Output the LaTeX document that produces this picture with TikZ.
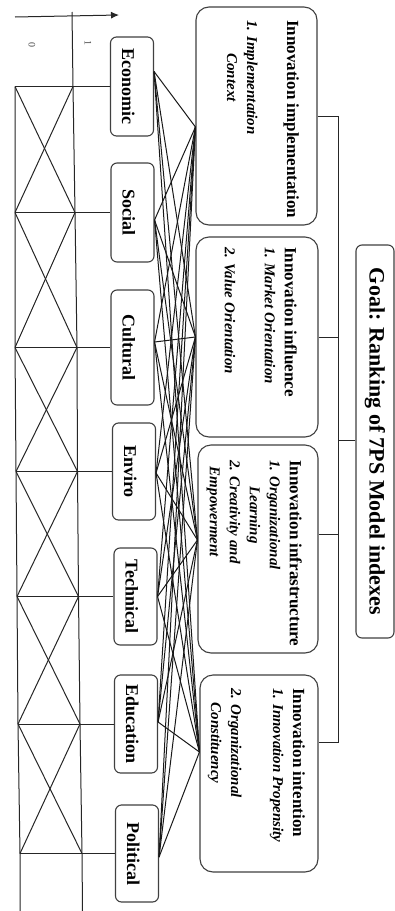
\documentclass[tikz,border=0pt]{standalone}
\usepackage{fontspec}
\setmainfont{Liberation Serif}
\usepackage{calc}
\usetikzlibrary{calc,arrows.meta}

\begin{document}
\begin{tikzpicture}[x=1pt,y=-1pt,
  wire/.style={draw=black!85,line width=1pt},
  link/.style={draw=black!90,line width=1pt},
  crit/.style={draw=black!75,line width=1.1pt,rounded corners=6pt,rotate=-90,
    minimum width=#1,minimum height=43pt,inner sep=0pt,
    text height=20pt,text depth=0pt,font=\fontsize{18}{20}\selectfont\bfseries},
  altbox/.style={draw=black!75,line width=1.1pt,rounded corners=13pt,rotate=-90,inner sep=0pt},
  goalbox/.style={draw=black!75,line width=1.1pt,rounded corners=6pt,rotate=-90,inner sep=0pt,
    minimum width=393pt,minimum height=38pt,font=\fontsize{22}{24}\selectfont\bfseries},
  alttext/.style={rotate=-90,anchor=north west,inner sep=0pt,align=left,
    font=\fontsize{15}{20}\selectfont\bfseries\itshape},
  axislabel/.style={rotate=-90,inner sep=0pt,text=black!70,font=\fontsize{10}{12}\selectfont}
]
\newcommand{\headline}[1]{{\fontsize{17}{20}\selectfont\upshape #1}}

\useasboundingbox[fill=white] (0,0) rectangle (395,911);

% axis arrow and scale labels
\coordinate (ax0) at (15,17);
\coordinate (ax1) at (119,15);
\draw[wire,-{Latex[length=8pt,width=7pt]}] (ax0) -- (ax1);
\node[axislabel] (z0) at (32,45) {0};
\node[axislabel] (z1) at (88,43) {1};

% criteria
\node[crit=99pt] (eco) at (132,86.5) {Economic};
\node[crit=99pt] (soc) at (132.5,212.5) {Social};
\node[crit=115pt] (cul) at (132.5,347.5) {Cultural};
\node[crit=97pt] (env) at (134,471.5) {Enviro};
\node[crit=97pt] (tec) at (135.5,596.5) {Technical};
\node[crit=98pt] (edu) at (136,724) {Education};
\node[crit=97pt] (pol) at (137,853.5) {Political};

% left lattice: two rails with crossings between consecutive criteria
\coordinate (L1) at (15,86.5);  \coordinate (R1) at (73,86.5);
\coordinate (L2) at (15,212.5); \coordinate (R2) at (75,212.5);
\coordinate (L3) at (15,347.5); \coordinate (R3) at (77,347.5);
\coordinate (L4) at (16,471.5); \coordinate (R4) at (77.5,471.5);
\coordinate (L5) at (17,596.5); \coordinate (R5) at (78.5,596.5);
\coordinate (L6) at (18,724);   \coordinate (R6) at (80,724);
\coordinate (L7) at (20,853.5); \coordinate (R7) at (82,853.5);
\coordinate (Ltop) at (15,86.5); \coordinate (Lbot) at (20,911);
\coordinate (Rtop) at (72,12);   \coordinate (Rbot) at (82.5,911);
\draw[wire] (Ltop) -- (L2) -- (L3) -- (L4) -- (L5) -- (L6) -- (L7) -- (Lbot);
\draw[wire] (Rtop) -- (R1) -- (R2) -- (R3) -- (R4) -- (R5) -- (R6) -- (R7) -- (Rbot);
\foreach \i/\c in {1/eco,2/soc,3/cul,4/env,5/tec,6/edu,7/pol}
  \draw[wire] (L\i) -- (\c.south);
\foreach \i/\j in {1/2,2/3,3/4,4/5,5/6,6/7}{
  \draw[wire] (L\i) -- (R\j);
  \draw[wire] (R\i) -- (L\j);
}

% alternatives
\node[altbox,minimum width=218pt,minimum height=121pt] (a1) at (256.5,116) {};
\node[altbox,minimum width=200pt,minimum height=122pt] (a2) at (257,337) {};
\node[altbox,minimum width=208pt,minimum height=120pt] (a3) at (258,549) {};
\node[altbox,minimum width=197pt,minimum height=118pt] (a4) at (259,773.5) {};

\node[alttext] (t1) at (299,20) {\headline{Innovation implementation}\\[20pt]
  1. Implementation\\
  \makebox[\widthof{1. Implementation}]{Context}};
\node[alttext] (t2) at (297,247) {\headline{Innovation influence}\\
  1. Market Orientation\\[20pt]
  2. Value Orientation};
\node[alttext] (t3) at (302,460) {\headline{Innovation infrastructure}\\
  1. Organizational\\
  \makebox[\widthof{1. Organizational}]{Learning}\\
  2. Creativity and\\
  \makebox[\widthof{2. Creativity and}]{Empowerment}};
\node[alttext] (t4) at (305,688) {\headline{Innovation intention}\\
  1. Innovation Propensity\\[22pt]
  2. Organizational\\
  \makebox[\widthof{2. Organizational}]{Constituency}};

% goal
\node[goalbox] (goal) at (375,441.5) {Goal: Ranking of 7PS Model indexes};

% hierarchy bus from the goal to the alternatives
\coordinate (b1) at (338,116);
\coordinate (b2) at (338,337);
\coordinate (b3) at (338,534);
\coordinate (b4) at (338,742);
\coordinate (bg) at (338,440);
\draw[wire] (a1.north) -- (b1) -- (b4) -- (a4.north |- b4);
\draw[wire] (a2.north) -- (b2);
\draw[wire] (a3.north |- b3) -- (b3);
\draw[wire] (goal.south |- bg) -- (bg);

% every criterion linked to every alternative
\foreach \c/\cy in {eco/-15,soc/7.5,cul/-5.5,env/1.5,tec/0,edu/-2,pol/3.5}
  \foreach \a/\ay in {a1/11,a2/0,a3/-9,a4/-21.5}
    \draw[link] ($(\c.north)+(0,\cy)$) -- ($(\a.south)+(0,\ay)$);
\end{tikzpicture}
\end{document}
